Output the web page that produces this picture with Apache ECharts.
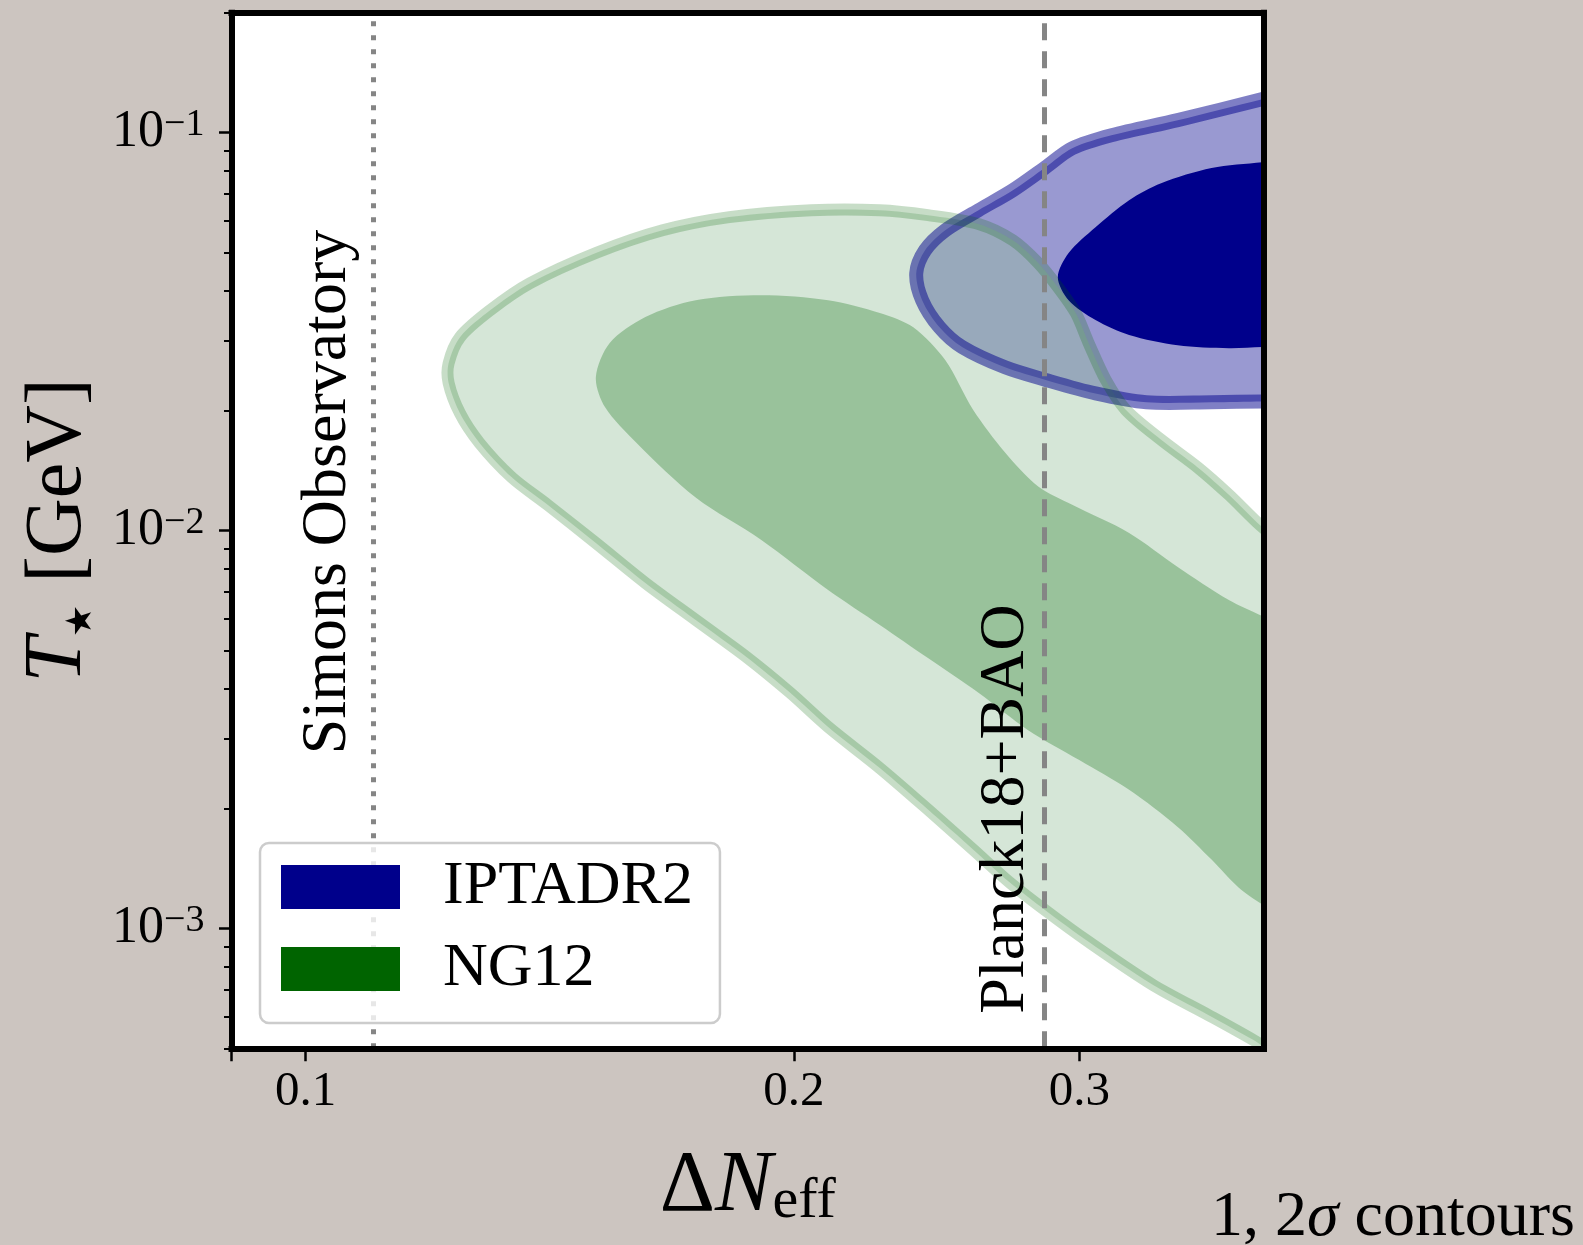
<!DOCTYPE html>
<html>
<head>
<meta charset="utf-8">
<title>T_star vs Delta N_eff</title>
<script src="https://cdn.jsdelivr.net/npm/echarts@6/dist/echarts.min.js"></script>
<style>
  html, body { margin: 0; padding: 0; background: #ccc5c0; }
  #chart { width: 1583px; height: 1245px; }
</style>
</head>
<body>
<div id="chart"></div>
<script>
var SERIF = '"Liberation Serif", "DejaVu Serif", serif';
var lg = Math.log10;

// axes
var xRange = [0.09, 0.39];
var yRange = [5e-4, 0.2];
var xTickValues = [0.1, 0.2, 0.3];
var xTickLabels = ['0.1', '0.2', '0.3'];
var xMinorTicks = [0.09];
var yTickValues = [1e-3, 1e-2, 1e-1];
var yTickExponents = ['\u22123', '\u22122', '\u22121'];
var yMinorTicks = [5e-4, 6e-4, 7e-4, 8e-4, 9e-4,
    2e-3, 3e-3, 4e-3, 5e-3, 6e-3, 7e-3, 8e-3, 9e-3,
    2e-2, 3e-2, 4e-2, 5e-2, 6e-2, 7e-2, 8e-2, 9e-2, 0.2];

// bounds
var simonsLimit = 0.11;
var planckLimit = 0.2856;

// NG12 2 sigma outline [dNeff, T], lower right -> left tip -> upper right
var ng12Outer = [
    [0.404, 0.000463], [0.384, 0.000525], [0.361, 0.000604], [0.333, 0.000722], [0.304, 0.000926],
    [0.286, 0.00111], [0.2715, 0.00131], [0.258, 0.00158], [0.242, 0.00199], [0.226, 0.00253],
    [0.210, 0.00321], [0.199, 0.00391], [0.187, 0.00481], [0.174, 0.00596], [0.162, 0.00738],
    [0.151, 0.00930], [0.141, 0.0116], [0.134, 0.0136], [0.128, 0.0166], [0.1245, 0.0197],
    [0.1225, 0.0235], [0.1225, 0.0263], [0.1245, 0.0306], [0.130, 0.0358], [0.1375, 0.0418],
    [0.151, 0.0498], [0.166, 0.0568], [0.1825, 0.0613], [0.205, 0.0638], [0.226, 0.0638],
    [0.242, 0.0620], [0.260, 0.0589], [0.273, 0.0536], [0.283, 0.0470], [0.291, 0.0409],
    [0.2985, 0.0352], [0.304, 0.0296], [0.3115, 0.0239], [0.3205, 0.0201], [0.337, 0.0169],
    [0.355, 0.0144], [0.371, 0.0123], [0.389, 0.0102], [0.404, 0.0091]
];
// NG12 1 sigma
var ng12Inner = [
    [0.404, 0.00569], [0.389, 0.00610], [0.371, 0.00669], [0.345, 0.00810], [0.322, 0.00986],
    [0.297, 0.0116], [0.283, 0.0129], [0.270, 0.0157], [0.258, 0.0201], [0.248, 0.0268],
    [0.237, 0.0324], [0.226, 0.0352], [0.210, 0.0379], [0.191, 0.0390], [0.174, 0.0379],
    [0.162, 0.0344], [0.154, 0.0296], [0.151, 0.0243], [0.153, 0.0204], [0.160, 0.0166],
    [0.174, 0.0121], [0.191, 0.00947], [0.210, 0.00709], [0.226, 0.00579], [0.242, 0.00478],
    [0.260, 0.00391], [0.279, 0.00315], [0.300, 0.00265], [0.322, 0.00223], [0.345, 0.00180],
    [0.362, 0.00149], [0.376, 0.00127], [0.389, 0.00115], [0.404, 0.00105]
];
// IPTA DR2 2 sigma
var iptaOuter = [
    [0.404, 0.1255], [0.389, 0.1213], [0.345, 0.1074], [0.314, 0.0984], [0.297, 0.0913],
    [0.286, 0.0818], [0.273, 0.0716], [0.260, 0.0638], [0.248, 0.0568], [0.241, 0.0506],
    [0.238, 0.0443], [0.240, 0.0379], [0.246, 0.0324], [0.254, 0.0289], [0.270, 0.0257],
    [0.286, 0.0239], [0.307, 0.0221], [0.330, 0.0210], [0.362, 0.0210], [0.389, 0.0211],
    [0.404, 0.0211]
];
// IPTA DR2 1 sigma
var iptaInner = [
    [0.404, 0.0852], [0.389, 0.0842], [0.362, 0.0814], [0.337, 0.0746], [0.322, 0.0676],
    [0.307, 0.0578], [0.2955, 0.0498], [0.291, 0.0433], [0.2955, 0.0379], [0.307, 0.0338],
    [0.322, 0.0310], [0.345, 0.0292], [0.371, 0.0287], [0.389, 0.0289], [0.404, 0.0289]
];

var BLUE = '#00008b';
var GREEN = '#006400';

function findLabel(values, labels, v) {
    for (var i = 0; i < values.length; i++) {
        if (Math.abs(lg(values[i]) - v) < 1e-6) return labels[i];
    }
    return '';
}

// filled region or outline; closes far right of the frame, clipped by the grid
function contour(name, pts, closed, style, color) {
    var ring = pts;
    if (closed) {
        var farX = xRange[1] * 1.15;
        ring = pts.concat([[farX, pts[pts.length - 1][1]], [farX, pts[0][1]]]);
    }
    return {
        type: 'custom',
        name: name,
        coordinateSystem: 'cartesian2d',
        clip: true,
        silent: true,
        itemStyle: { color: color },
        data: pts.map(function (p) { return [lg(p[0]), lg(p[1])]; }),
        encode: { x: 0, y: 1 },
        renderItem: function (params, api) {
            if (params.dataIndex !== 0) return null;
            var points = ring.map(function (p) { return api.coord([lg(p[0]), lg(p[1])]); });
            return {
                type: closed ? 'polygon' : 'polyline',
                shape: { points: points, smooth: 0.3 },
                style: style
            };
        }
    };
}

var chart = echarts.init(document.getElementById('chart'));

var frameLine = { color: '#000', width: 6, cap: 'square' };

var option = {
    animation: false,
    backgroundColor: '#ccc5c0',
    textStyle: { fontFamily: SERIF },
    grid: {
        left: 231.5, top: 12.7, width: 1032.5, height: 1035.6,
        show: true, backgroundColor: '#ffffff', borderWidth: 0
    },
    legend: {
        left: 260, top: 843,
        orient: 'vertical',
        selectedMode: false,
        icon: 'rect',
        itemWidth: 119, itemHeight: 44, itemGap: 20,
        padding: [13, 27, 23, 21],
        backgroundColor: 'rgba(255,255,255,0.8)',
        borderColor: '#cccccc', borderWidth: 2.5, borderRadius: 9,
        textStyle: { fontSize: 62, fontFamily: SERIF, color: '#000', padding: [0, 0, 0, 38] },
        data: [
            { name: 'IPTADR2', itemStyle: { color: BLUE } },
            { name: 'NG12', itemStyle: { color: GREEN } }
        ]
    },
    xAxis: [{
        type: 'value', position: 'bottom', z: 10,
        min: lg(xRange[0]), max: lg(xRange[1]),
        splitLine: { show: false },
        axisLine: { show: true, lineStyle: frameLine },
        axisTick: {
            show: true, length: 13,
            customValues: xMinorTicks.concat(xTickValues).map(lg),
            lineStyle: { color: '#000', width: 2.5 }
        },
        axisLabel: {
            customValues: xTickValues.map(lg),
            margin: 19, fontSize: 49, color: '#000', fontFamily: SERIF,
            formatter: function (v) { return findLabel(xTickValues, xTickLabels, v); }
        },
        name: '{d|\u0394}{n|N}{e|eff}',
        nameLocation: 'middle', nameGap: 96,
        nameTextStyle: {
            color: '#000',
            rich: {
                d: { fontSize: 86, fontFamily: SERIF, lineHeight: 86 },
                n: { fontSize: 86, fontFamily: SERIF, fontStyle: 'italic', lineHeight: 86 },
                e: { fontSize: 58, fontFamily: SERIF, verticalAlign: 'bottom', lineHeight: 22 }
            }
        }
    }, {
        type: 'value', position: 'top', z: 10,
        min: lg(xRange[0]), max: lg(xRange[1]),
        splitLine: { show: false },
        axisLine: { show: true, lineStyle: frameLine },
        axisTick: { show: false }, axisLabel: { show: false }
    }],
    yAxis: [{
        type: 'value', position: 'left', z: 10,
        min: lg(yRange[0]), max: lg(yRange[1]),
        splitLine: { show: false },
        axisLine: { show: true, lineStyle: frameLine },
        axisTick: {
            show: true, length: 12.5,
            customValues: yTickValues.map(lg),
            lineStyle: { color: '#000', width: 2.5 }
        },
        axisLabel: {
            customValues: yTickValues.map(lg),
            margin: 27, color: '#000',
            formatter: function (v) {
                return '{b|10}{s|' + findLabel(yTickValues, yTickExponents, v) + '}';
            },
            rich: {
                b: { fontSize: 52, fontFamily: SERIF, lineHeight: 52, color: '#000' },
                s: { fontSize: 38, fontFamily: SERIF, lineHeight: 27, verticalAlign: 'top', color: '#000' }
            }
        },
        name: '{t|T}{s|\u2605}{g| [GeV]}',
        nameLocation: 'middle', nameRotate: 90, nameGap: 132,
        nameTextStyle: {
            color: '#000',
            rich: {
                t: { fontSize: 82, fontFamily: SERIF, fontStyle: 'italic', lineHeight: 82 },
                s: { fontSize: 36, fontFamily: '"DejaVu Sans", sans-serif', verticalAlign: 'bottom', lineHeight: 44, padding: [0, 2, 0, 0] },
                g: { fontSize: 80, fontFamily: SERIF, lineHeight: 82 }
            }
        }
    }, {
        type: 'value', position: 'left', z: 10,
        min: lg(yRange[0]), max: lg(yRange[1]),
        splitLine: { show: false },
        axisLine: { show: false },
        axisTick: {
            show: true, length: 7.5,
            customValues: yMinorTicks.map(lg),
            lineStyle: { color: '#000', width: 2 }
        },
        axisLabel: { show: false }
    }, {
        type: 'value', position: 'right', z: 10,
        min: lg(yRange[0]), max: lg(yRange[1]),
        splitLine: { show: false },
        axisLine: { show: true, lineStyle: frameLine },
        axisTick: { show: false }, axisLabel: { show: false }
    }],
    series: [
        contour('IPTADR2', iptaOuter, true, { fill: 'rgba(0,0,139,0.4)', stroke: 'none' }, BLUE),
        contour('IPTADR2', iptaInner, true, { fill: 'rgba(0,0,139,1)', stroke: 'none' }, BLUE),
        contour('NG12', ng12Outer, true, { fill: 'rgba(150,192,155,0.4)', stroke: 'none' }, GREEN),
        contour('NG12', ng12Inner, true, { fill: 'rgba(63,140,65,0.4)', stroke: 'none' }, GREEN),
        contour('IPTADR2', iptaOuter, false, { fill: 'none', stroke: 'rgba(0,0,139,0.5)', lineWidth: 14 }, BLUE),
        contour('NG12', ng12Outer, false, { fill: 'none', stroke: 'rgba(0,100,0,0.22)', lineWidth: 12 }, GREEN),
        {
            type: 'line', name: 'bounds', data: [], silent: true,
            markLine: {
                silent: true, z: 3, precision: 8,
                symbol: ['none', 'none'], label: { show: false },
                data: [
                    { xAxis: lg(simonsLimit), lineStyle: { type: [5, 9], width: 5, color: '#858585' } },
                    { xAxis: lg(planckLimit), lineStyle: { type: [17, 11], width: 5, color: '#858585' } }
                ]
            }
        }
    ],
    graphic: [{
        type: 'text', x: 328, y: 492, rotation: Math.PI / 2, z: 100, silent: true,
        style: {
            text: 'Simons Observatory', fontSize: 64, fontFamily: SERIF, fill: '#000',
            align: 'center', verticalAlign: 'middle', textAlign: 'center', textVerticalAlign: 'middle'
        }
    }, {
        type: 'text', x: 1006, y: 809, rotation: Math.PI / 2, z: 100, silent: true,
        style: {
            text: 'Planck18+BAO', fontSize: 64, fontFamily: SERIF, fill: '#000',
            align: 'center', verticalAlign: 'middle', textAlign: 'center', textVerticalAlign: 'middle'
        }
    }, {
        type: 'text', x: 1211, y: 1218, z: 100, silent: true,
        style: {
            text: '{r|1, 2}{i|\u03c3}{r| contours}',
            rich: {
                r: { fontSize: 64, fontFamily: SERIF, fill: '#000', color: '#000' },
                i: { fontSize: 64, fontFamily: SERIF, fontStyle: 'italic', fill: '#000', color: '#000' }
            },
            align: 'left', verticalAlign: 'middle', textAlign: 'left', textVerticalAlign: 'middle'
        }
    }]
};

chart.setOption(option);
</script>
</body>
</html>
